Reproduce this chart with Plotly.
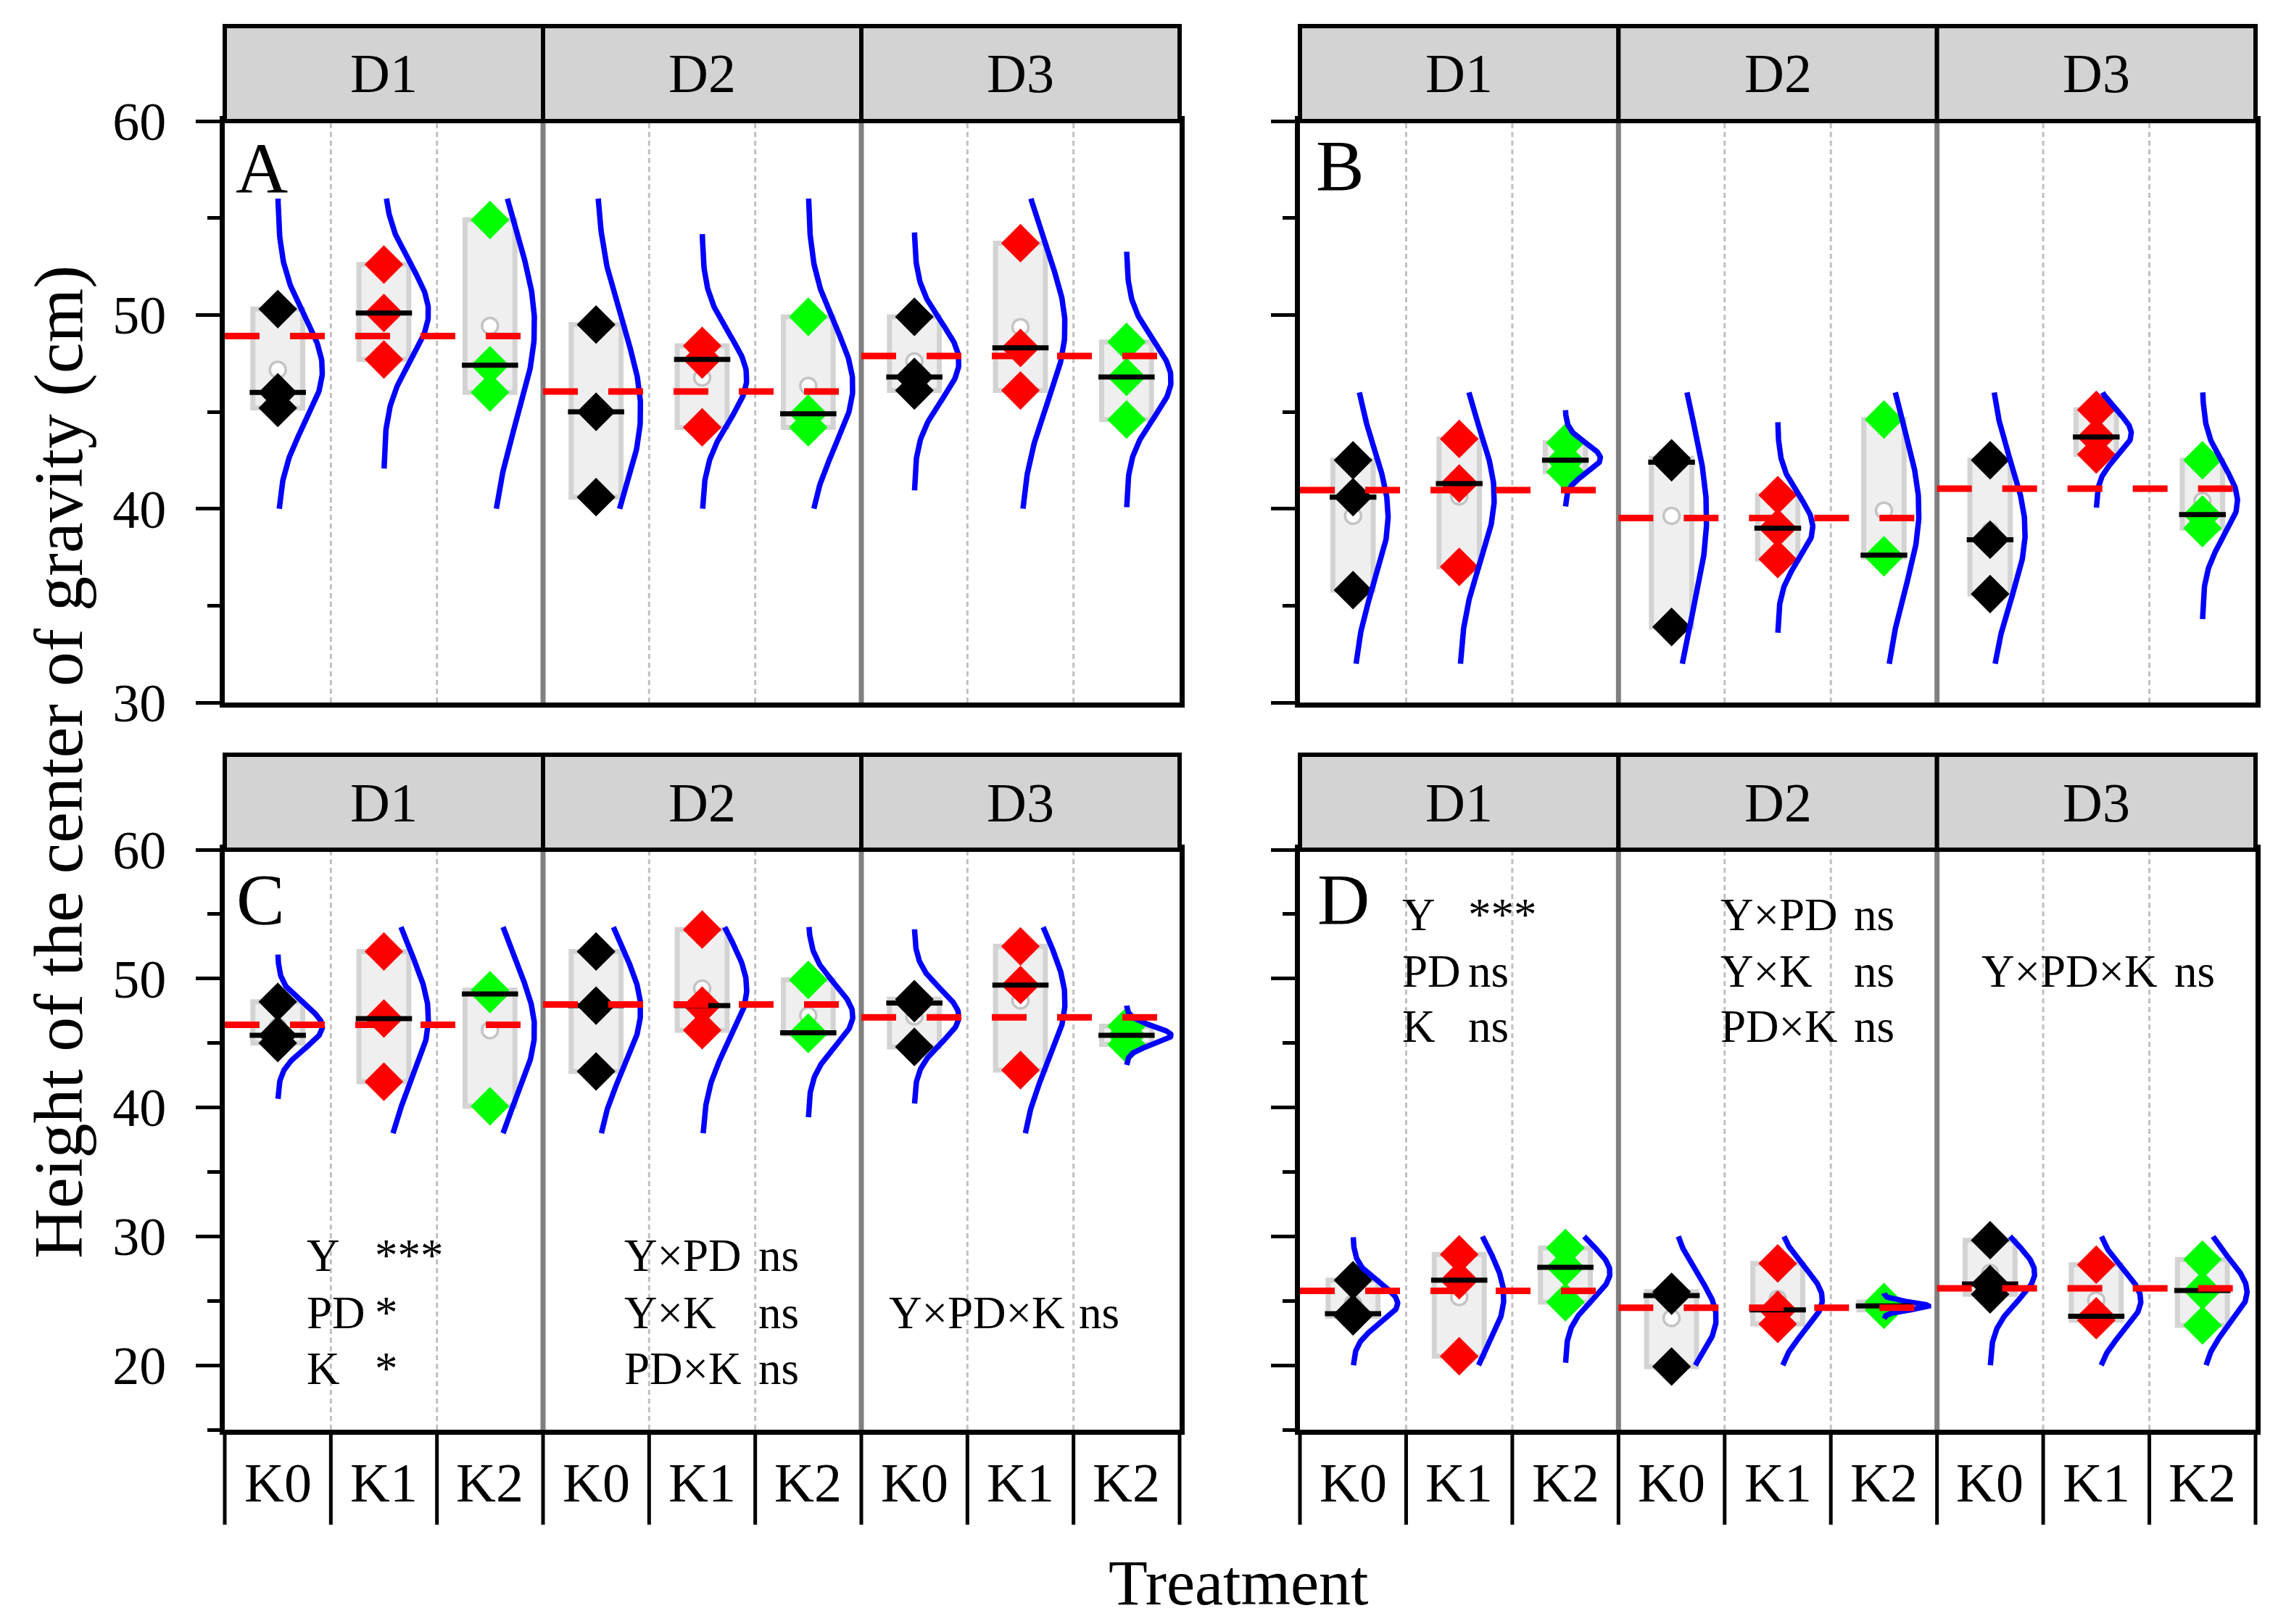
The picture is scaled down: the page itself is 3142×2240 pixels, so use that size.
import numpy as np
import plotly.graph_objects as go

# ---------------- data ----------------
facets = ["D1", "D2", "D3"]
treatments = ["K0", "K1", "K2"]
treat_colors = ["#000000", "#FF0000", "#00FF00"]

# groups ordered D1-K0, D1-K1, D1-K2, D2-K0, ..., D3-K2 ; three replicates each
height_A = [
    [50.3, 46.0, 45.2], [52.6, 50.1, 47.7], [54.9, 47.4, 46.0],
    [49.5, 45.0, 40.6], [48.4, 47.7, 44.2], [49.9, 44.9, 44.2],
    [49.9, 46.8, 46.1], [53.7, 48.3, 46.1], [48.6, 46.8, 44.6],
]
height_B = [
    [42.5, 40.6, 35.8], [43.6, 41.3, 37.0], [43.4, 42.5, 41.9],
    [42.6, 42.4, 33.9], [40.7, 39.0, 37.4], [44.6, 37.6, 37.5],
    [42.5, 38.4, 35.6], [45.1, 43.7, 42.8], [42.5, 39.7, 39.0],
]
height_C = [
    [48.2, 45.6, 45.0], [52.1, 46.9, 42.0], [49.1, 48.8, 40.1],
    [52.1, 47.9, 42.8], [53.8, 47.9, 46.0], [49.9, 45.8, 45.7],
    [48.4, 48.1, 44.7], [52.5, 49.5, 42.9], [46.3, 45.6, 44.9],
]
height_D = [
    [26.6, 24.0, 23.8], [28.6, 26.6, 20.7], [29.1, 27.6, 24.9],
    [25.7, 25.4, 19.9], [27.9, 24.3, 23.2], [24.9, 24.6, 24.3],
    [29.7, 26.3, 25.5], [27.8, 23.8, 23.5], [28.2, 25.8, 23.1],
]

y_range_top = [30, 60]
y_range_bottom = [15, 60]
curve_limits_A = [40, 56]
curve_limits_B = [32, 46]
curve_limits_C = [38, 54]
curve_limits_D = [20, 30]

main_effects = ["Y", "PD", "K"]
main_sig_C = ["***", "*", "*"]
main_sig_D = ["***", "ns", "ns"]
two_way = ["Y×PD", "Y×K", "PD×K"]
two_way_sig_C = ["ns", "ns", "ns"]
two_way_sig_D = ["ns", "ns", "ns"]
three_way = "Y×PD×K"
three_way_sig_C = "ns"
three_way_sig_D = "ns"

# ---------------- geometry ----------------
OFF = 8
FIG_W, FIG_H = 3142 - 2 * OFF, 2240 - 2 * OFF
FONT = "Liberation Serif, Times New Roman, serif"


def px_x(x):
    return (x - OFF) / FIG_W


def px_y(y):
    return 1 - (y - OFF) / FIG_H


col_px = [(310, 1627), (1793, 3111)]
row_px = [(167, 969), (1172, 1972)]
strip_px = 131

panels = [
    ("A", height_A, 0, 0, y_range_top, curve_limits_A, 0.235, 0.42),
    ("B", height_B, 0, 1, y_range_top, curve_limits_B, 0.19, 0.33),
    ("C", height_C, 1, 0, y_range_bottom, curve_limits_C, 0.235, 0.42),
    ("D", height_D, 1, 1, y_range_bottom, curve_limits_D, 0.235, 0.42),
]
letter_pos = {"A": (323, 233), "B": (1813, 229), "C": (324, 1240), "D": (1815, 1240)}

fig = go.Figure()
shapes = []
annotations = []
layout_axes = {}

for idx, (name, vals, r, c, yrng, climit, hw, amp) in enumerate(panels):
    n = idx + 1
    sfx = "" if n == 1 else str(n)
    xr, yr = "x" + sfx, "y" + sfx
    xd, yd = xr + " domain", yr + " domain"
    x0p, x1p = col_px[c]
    y0p, y1p = row_px[r]
    ph = y1p - y0p

    layout_axes["xaxis" + sfx] = dict(
        domain=[px_x(x0p), px_x(x1p)], range=[-0.5, 8.5], anchor=yr,
        showline=True, linecolor="black", linewidth=7, mirror=True,
        ticks="", showticklabels=False, showgrid=False, zeroline=False,
        automargin=False)
    layout_axes["yaxis" + sfx] = dict(
        domain=[px_y(y1p), px_y(y0p)], range=yrng, anchor=xr,
        showline=True, linecolor="black", linewidth=7, mirror=True,
        ticks="outside", ticklen=33, tickwidth=5, tickcolor="black",
        tick0=0, dtick=10,
        minor=dict(tick0=0, dtick=5, ticks="outside", ticklen=17,
                   tickwidth=5, tickcolor="black"),
        showticklabels=(c == 0), ticklabelstandoff=26,
        tickfont=dict(family=FONT, size=74, color="black"),
        showgrid=False, zeroline=False, automargin=False)

    # separators inside the plot
    for k in range(1, 9):
        if k % 3 == 0:
            shapes.append(dict(type="line", xref=xd, yref=yd, x0=k / 9, x1=k / 9,
                               y0=0, y1=1, layer="below",
                               line=dict(color="#808080", width=7)))
        else:
            shapes.append(dict(type="line", xref=xd, yref=yd, x0=k / 9, x1=k / 9,
                               y0=0, y1=1, layer="below",
                               line=dict(color="#C0C0C0", width=3, dash="7px,5px")))

    # strips
    for f in range(3):
        shapes.append(dict(type="rect", xref=xd, yref=yd, x0=f / 3, x1=(f + 1) / 3,
                           y0=1, y1=1 + strip_px / ph, layer="above",
                           fillcolor="#D3D3D3", line=dict(color="black", width=6)))
        annotations.append(dict(xref=xd, yref=yd, x=(f + 0.5) / 3,
                                y=1 + strip_px / 2 / ph, text=facets[f], showarrow=False,
                                xanchor="center", yanchor="middle",
                                font=dict(family=FONT, size=76, color="black")))

    # category table under the bottom row
    if r == 1:
        for k in range(10):
            shapes.append(dict(type="line", xref=xd, yref=yd, x0=k / 9, x1=k / 9,
                               y0=0, y1=-131 / ph, layer="above",
                               line=dict(color="black", width=5)))
        for g in range(9):
            annotations.append(dict(xref=xr, yref=yd, x=g, y=0, yshift=-73,
                                    text=treatments[g % 3], showarrow=False,
                                    xanchor="center", yanchor="middle",
                                    font=dict(family=FONT, size=76, color="black")))

    # groups
    for g, pts in enumerate(vals):
        col = treat_colors[g % 3]
        m = float(np.mean(pts))
        s = float(np.std(pts, ddof=1))
        med = float(np.median(pts))
        shapes.append(dict(type="rect", xref=xr, yref=yr, x0=g - hw, x1=g + hw,
                           y0=min(pts), y1=max(pts), layer="below",
                           fillcolor="#EFEFEF", line=dict(color="#D3D3D3", width=7)))
        fig.add_trace(go.Scatter(x=[g], y=[m], mode="markers", xaxis=xr, yaxis=yr,
                                 marker=dict(symbol="circle", size=22, color="white",
                                             line=dict(color="#C4C4C4", width=3.5)),
                                 hoverinfo="skip"))
        fig.add_trace(go.Scatter(x=[g] * len(pts), y=pts, mode="markers",
                                 xaxis=xr, yaxis=yr,
                                 marker=dict(symbol="diamond", size=41, color=col,
                                             line=dict(width=0))))
        lo = max(climit[0], m - 3.29 * s)
        hi = min(climit[1], m + 3.29 * s)
        yy = np.linspace(lo, hi, 150)
        xx = g + amp * np.exp(-0.5 * ((yy - m) / s) ** 2)
        fig.add_trace(go.Scatter(x=xx, y=yy, mode="lines", xaxis=xr, yaxis=yr,
                                 line=dict(color="#0000FF", width=7.5), hoverinfo="skip"))
        shapes.append(dict(type="line", xref=xr, yref=yr, x0=g - hw - 0.03,
                           x1=g + hw + 0.03, y0=med, y1=med, layer="above",
                           line=dict(color="black", width=7)))

    # facet grand means (red dashed)
    for f in range(3):
        fm = float(np.mean([v for pts in vals[3 * f:3 * f + 3] for v in pts]))
        shapes.append(dict(type="line", xref=xr, yref=yr, x0=3 * f - 0.5,
                           x1=3 * f + 2.5, y0=fm, y1=fm, layer="above",
                           line=dict(color="#FF0000", width=9, dash="48px,42px")))

    lx, ly = letter_pos[name]
    annotations.append(dict(xref="paper", yref="paper", x=px_x(lx), y=px_y(ly),
                            text=name, showarrow=False, xanchor="left", yanchor="middle",
                            font=dict(family=FONT, size=100, color="black")))


def add_text(txt, x, y, size=63):
    annotations.append(dict(xref="paper", yref="paper", x=px_x(x), y=px_y(y),
                            text=txt, showarrow=False, xanchor="left",
                            yanchor="middle",
                            font=dict(family=FONT, size=size, color="black")))


# significance table, panel C
rows_C = [1732, 1811, 1888]
for i in range(3):
    add_text(main_effects[i], 421, rows_C[i])
    add_text(main_sig_C[i], 515, rows_C[i])
    add_text(two_way[i], 859, rows_C[i])
    add_text(two_way_sig_C[i], 1044, rows_C[i])
add_text(three_way, 1224, rows_C[1])
add_text(three_way_sig_C, 1486, rows_C[1])

# significance table, panel D
rows_D = [1262, 1340, 1416]
for i in range(3):
    add_text(main_effects[i], 1932, rows_D[i])
    add_text(main_sig_D[i], 2023, rows_D[i])
    add_text(two_way[i], 2371, rows_D[i])
    add_text(two_way_sig_D[i], 2555, rows_D[i])
add_text(three_way, 2731, rows_D[1])
add_text(three_way_sig_D, 2997, rows_D[1])

# axis titles
annotations.append(dict(xref="paper", yref="paper", x=px_x(80), y=px_y(1051),
                        text="Height of the center of gravity (cm)", textangle=-90,
                        showarrow=False, xanchor="center", yanchor="middle",
                        font=dict(family=FONT, size=96, color="black")))
annotations.append(dict(xref="paper", yref="paper", x=px_x(1708), y=px_y(2183),
                        text="Treatment", showarrow=False, xanchor="center",
                        yanchor="middle", font=dict(family=FONT, size=88, color="black")))

fig.update_layout(
    width=FIG_W, height=FIG_H, autosize=False,
    margin=dict(l=0, r=0, t=0, b=0, autoexpand=False),
    paper_bgcolor="white", plot_bgcolor="white",
    showlegend=False, shapes=shapes, annotations=annotations,
    **layout_axes)

fig.write_html("out.html")
